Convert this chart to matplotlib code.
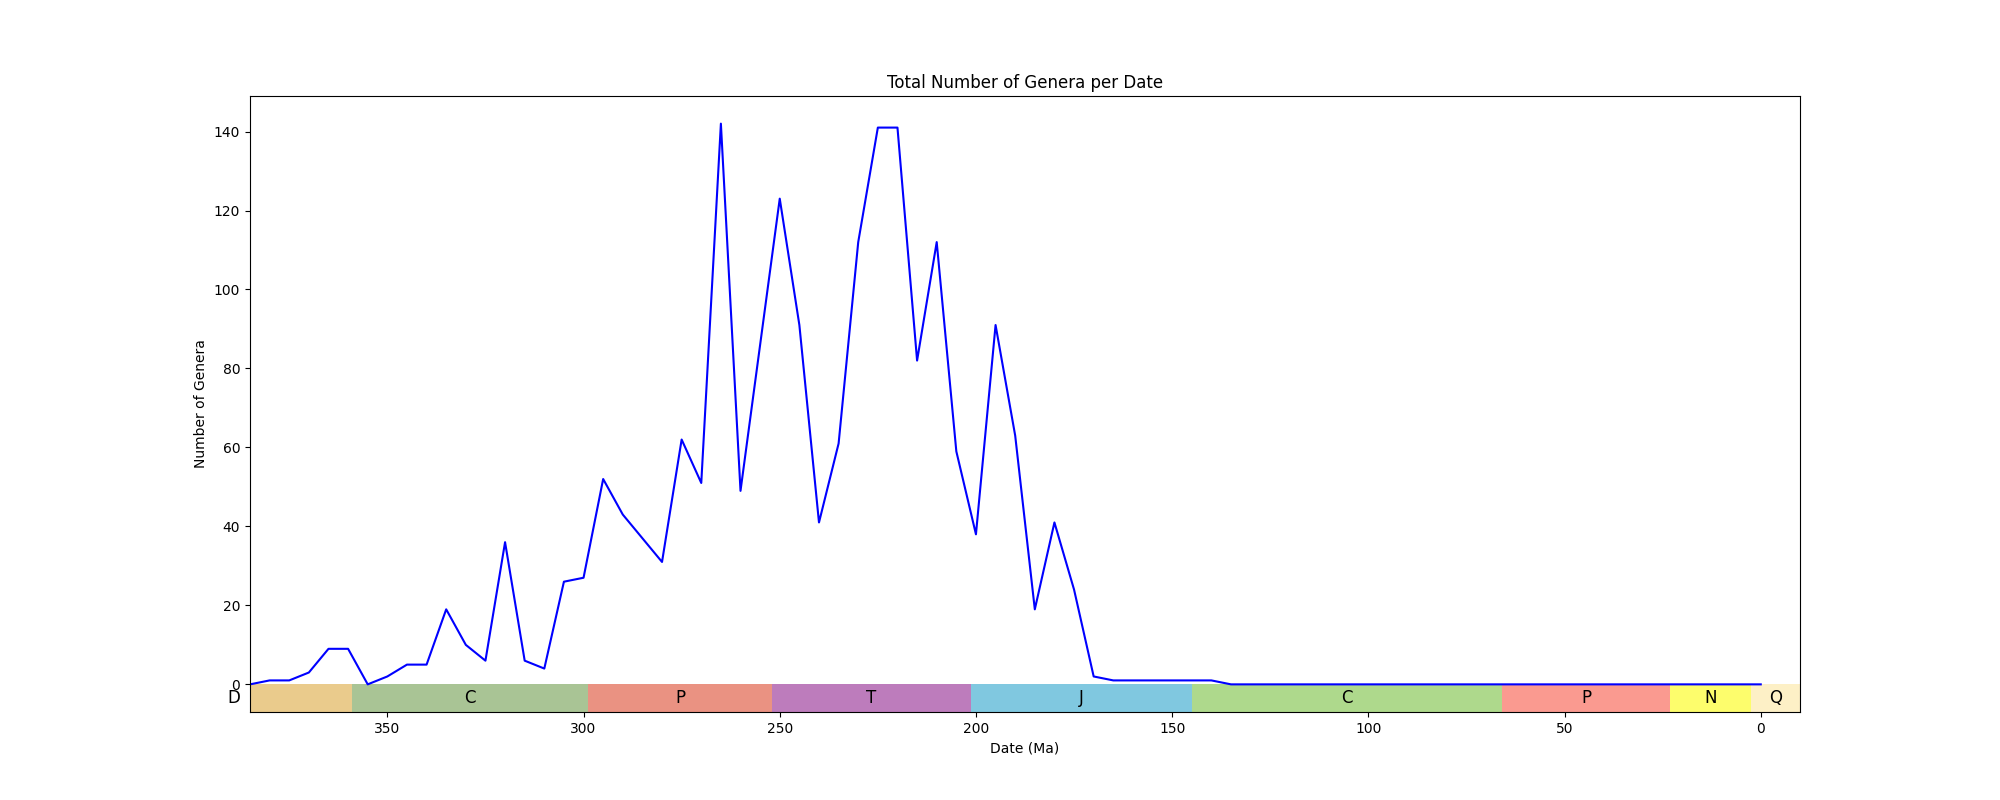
import matplotlib
matplotlib.use('Agg')
import matplotlib.pyplot as plt
import numpy as np

# dates in Ma and genus counts
dates = list(range(385, -1, -5))
genera = [0, 1, 1, 3, 9, 9, 0, 2, 5, 5,
          19, 10, 6, 36, 6, 4, 26, 27, 52, 43,
          37, 31, 62, 51, 142, 49, 86, 123, 91, 41,
          61, 112, 141, 141, 82, 112, 59, 38, 91, 63,
          19, 41, 24, 2, 1, 1, 1, 1, 1, 1,
          0, 0, 0, 0, 0, 0, 0, 0, 0, 0,
          0, 0, 0, 0, 0, 0, 0, 0, 0, 0,
          0, 0, 0, 0, 0, 0, 0, 0]

# geologic periods: label, start, end (Ma), colour
period_labels = ['D', 'C', 'P', 'T', 'J', 'C', 'P', 'N', 'Q']
period_start = [419.2, 358.9, 298.9, 251.9, 201.3, 145.0, 66.0, 23.03, 2.58]
period_end = [358.9, 298.9, 251.9, 201.3, 145.0, 66.0, 23.03, 2.58, -10]
period_colors = ['#eacb8c', '#a9c495', '#ea9282', '#bd7cbc', '#80c8e0',
                 '#aed98c', '#fa9a90', '#fdfd6c', '#fdf0c6']

fig, ax = plt.subplots(figsize=(20, 8), dpi=100)
ax.plot(dates, genera, color='blue', linewidth=1.5)

bar_h = 7
for lab, s, e, c in zip(period_labels, period_start, period_end, period_colors):
    ax.bar(e, -bar_h, width=s - e, align='edge', bottom=0, color=c)
    ax.text((s + e) / 2, -bar_h / 2, lab, ha='center', va='center', fontsize=12, clip_on=False)

ax.set_xlim(385, -10)
ax.set_ylim(-7, 149)
ax.set_title('Total Number of Genera per Date')
ax.set_xlabel('Date (Ma)')
ax.set_ylabel('Number of Genera')

plt.savefig('out.png')
